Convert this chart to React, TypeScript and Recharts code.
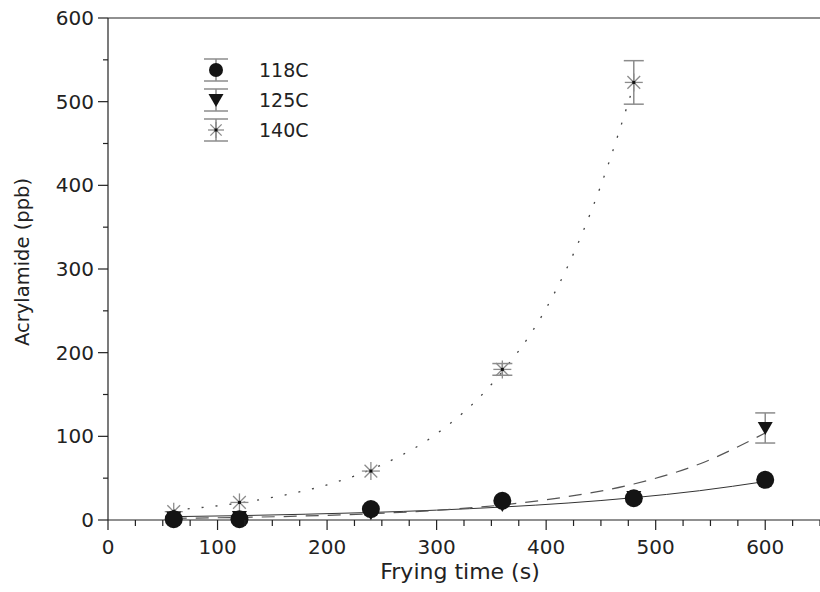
import React from 'react'
import { ComposedChart, XAxis, YAxis, Line, Scatter, ErrorBar, Legend } from 'recharts'

// measured points (time s, acrylamide ppb, error)
const times = [60, 120, 240, 360, 480, 600]
const acr118 = [1, 1, 13, 23, 26, 48]
const err118 = [0, 0, 0, 0, 0, 0]
const acr125 = [3, 3.5, 8, 18, 27.5, 110]
const err125 = [0, 0, 0, 0, 0, 18]
const times140 = [60, 120, 240, 360, 480]
const acr140 = [10, 21, 58.5, 180, 523]
const err140 = [0, 0, 0, 7, 26]

// fitted curves
const fitT = [60, 120, 180, 240, 300, 360, 420, 480, 540, 600]
const fit118 = [4, 5.2, 6.9, 9, 11.8, 15.5, 20.3, 26.7, 35, 46]
const fit125 = [2, 3.1, 4.8, 7.5, 11.6, 18, 28, 43, 67, 104]
const fitT140 = [60, 100, 150, 200, 250, 300, 350, 400, 420, 450, 480]
const fit140 = [12, 17, 27, 42, 66, 103, 162, 253, 304, 400, 520]

const seriesNames = ['118C', '125C', '140C']

const xTicks = Array.from({ length: 27 }, (_, i) => i * 25)
const yTicks = Array.from({ length: 13 }, (_, i) => i * 50)

const pts = (t: number[], v: number[], e?: number[]) =>
  t.map((x, i) => ({ t: x, v: v[i], e: e ? e[i] : 0 }))

const FONT = '"DejaVu Sans", sans-serif'
const AXIS = '#222'
const GREY = '#8c8c8c'

const Dot = ({ cx, cy, r = 9 }: any) => <circle cx={cx} cy={cy} r={r} fill="#141414" />
const Tri = ({ cx, cy, s = 1 }: any) => (
  <polygon
    points={`${cx - 7.5 * s},${cy - 6 * s} ${cx + 7.5 * s},${cy - 6 * s} ${cx},${cy + 7 * s}`}
    fill="#141414"
  />
)
const Star = ({ cx, cy, r = 9 }: any) => {
  const d = r * 0.707
  return (
    <g stroke={GREY} strokeWidth={1.3}>
      <line x1={cx - r} y1={cy} x2={cx + r} y2={cy} />
      <line x1={cx} y1={cy - r} x2={cx} y2={cy + r} />
      <line x1={cx - d} y1={cy - d} x2={cx + d} y2={cy + d} />
      <line x1={cx - d} y1={cy + d} x2={cx + d} y2={cy - d} />
      <rect x={cx - 1.5} y={cy - 1.5} width={3} height={3} fill="#111" stroke="none" />
    </g>
  )
}

const XTick = ({ x, y, payload, top }: any) => {
  const major = payload.value % 100 === 0
  const len = top ? (major ? -11 : -5) : major ? 10 : 6
  return (
    <g>
      <line x1={x} x2={x} y1={y} y2={y + len} stroke={AXIS} strokeWidth={1.2} />
      {!top && major && (
        <text x={x} y={y + 34} textAnchor="middle" fontSize={20} fontFamily={FONT} fill="#222">
          {payload.value}
        </text>
      )}
    </g>
  )
}

const YTick = ({ x, y, payload }: any) => {
  const major = payload.value % 100 === 0
  return (
    <g>
      <line x1={x} x2={x - (major ? 10 : 5)} y1={y} y2={y} stroke={AXIS} strokeWidth={1.2} />
      {major && (
        <text x={x - 14} y={y + 7} textAnchor="end" fontSize={20} fontFamily={FONT} fill="#222">
          {payload.value}
        </text>
      )}
    </g>
  )
}

const LegendBox = () => {
  const marks = [
    (cy: number) => <Dot cx={21} cy={cy} r={7} />,
    (cy: number) => <Tri cx={21} cy={cy} />,
    (cy: number) => <Star cx={21} cy={cy} r={8} />,
  ]
  return (
    <svg width={130} height={100}>
      {seriesNames.map((n, i) => {
        const cy = 20 + i * 30
        return (
          <g key={n}>
            <g stroke={GREY} strokeWidth={1.5}>
              <line x1={21} x2={21} y1={cy - 11} y2={cy + 11} />
              <line x1={9} x2={33} y1={cy - 11} y2={cy - 11} />
              <line x1={9} x2={33} y1={cy + 11} y2={cy + 11} />
            </g>
            {marks[i](cy)}
            <text x={64} y={cy + 7} fontSize={19} fontFamily={FONT} fill="#222">
              {n}
            </text>
          </g>
        )
      })}
    </svg>
  )
}

export default function App() {
  return (
    <div style={{ position: 'absolute', left: 0, top: 0, background: '#fff' }}>
      <ComposedChart width={820} height={592} margin={{ top: 0, right: 0, bottom: 0, left: 0 }}>
        <XAxis
          xAxisId="top"
          orientation="top"
          type="number"
          dataKey="t"
          domain={[0, 650]}
          ticks={xTicks}
          interval={0}
          height={18}
          tickSize={0}
          tickMargin={0}
          tickLine={false}
          tick={<XTick top />}
          stroke={AXIS}
          strokeWidth={1.2}
        />
        <XAxis
          type="number"
          dataKey="t"
          domain={[0, 650]}
          ticks={xTicks}
          interval={0}
          height={72}
          tickSize={0}
          tickMargin={0}
          tickLine={false}
          tick={<XTick />}
          stroke={AXIS}
          strokeWidth={1.2}
          label={{
            content: ({ viewBox }: any) => (
              <text x={viewBox.x + viewBox.width / 2 - 4} y={579} textAnchor="middle" fontSize={22} fontFamily={FONT} fill="#222">
                Frying time (s)
              </text>
            ),
          }}
        />
        <YAxis
          type="number"
          domain={[0, 600]}
          ticks={yTicks}
          interval={0}
          width={108}
          tickSize={0}
          tickMargin={0}
          tickLine={false}
          tick={<YTick />}
          stroke={AXIS}
          strokeWidth={1.2}
          label={{
            content: ({ viewBox }: any) => (
              <text
                x={0}
                y={0}
                transform={`translate(${viewBox.x + 29},${viewBox.y + viewBox.height / 2 - 7}) rotate(-90)`}
                textAnchor="middle"
                fontSize={19.5}
                fontFamily={FONT}
                fill="#222"
              >
                Acrylamide (ppb)
              </text>
            ),
          }}
        />
        <Legend
          layout="vertical"
          align="center"
          verticalAlign="middle"
          wrapperStyle={{ left: 195, top: 50, width: 130 }}
          content={() => <LegendBox />}
        />
        <Line data={pts(fitT, fit118)} dataKey="v" type="monotone" stroke="#333" strokeWidth={1} dot={false} isAnimationActive={false} />
        <Line data={pts(fitT, fit125)} dataKey="v" type="monotone" stroke="#555" strokeWidth={1.2} strokeDasharray="13 9" dot={false} isAnimationActive={false} />
        <Line data={pts(fitT140, fit140)} dataKey="v" type="monotone" stroke="#444" strokeWidth={1.3} strokeDasharray="2 12" dot={false} isAnimationActive={false} />
        <Scatter data={pts(times140, acr140, err140)} dataKey="v" shape={<Star />} isAnimationActive={false}>
          <ErrorBar dataKey="e" direction="y" width={10} stroke={GREY} strokeWidth={1.5} />
        </Scatter>
        <Scatter data={pts(times, acr125, err125)} dataKey="v" shape={<Tri />} isAnimationActive={false}>
          <ErrorBar dataKey="e" direction="y" width={10} stroke={GREY} strokeWidth={1.5} />
        </Scatter>
        <Scatter data={pts(times, acr118, err118)} dataKey="v" shape={<Dot />} isAnimationActive={false}>
          <ErrorBar dataKey="e" direction="y" width={10} stroke={GREY} strokeWidth={1.5} />
        </Scatter>
      </ComposedChart>
    </div>
  )
}
